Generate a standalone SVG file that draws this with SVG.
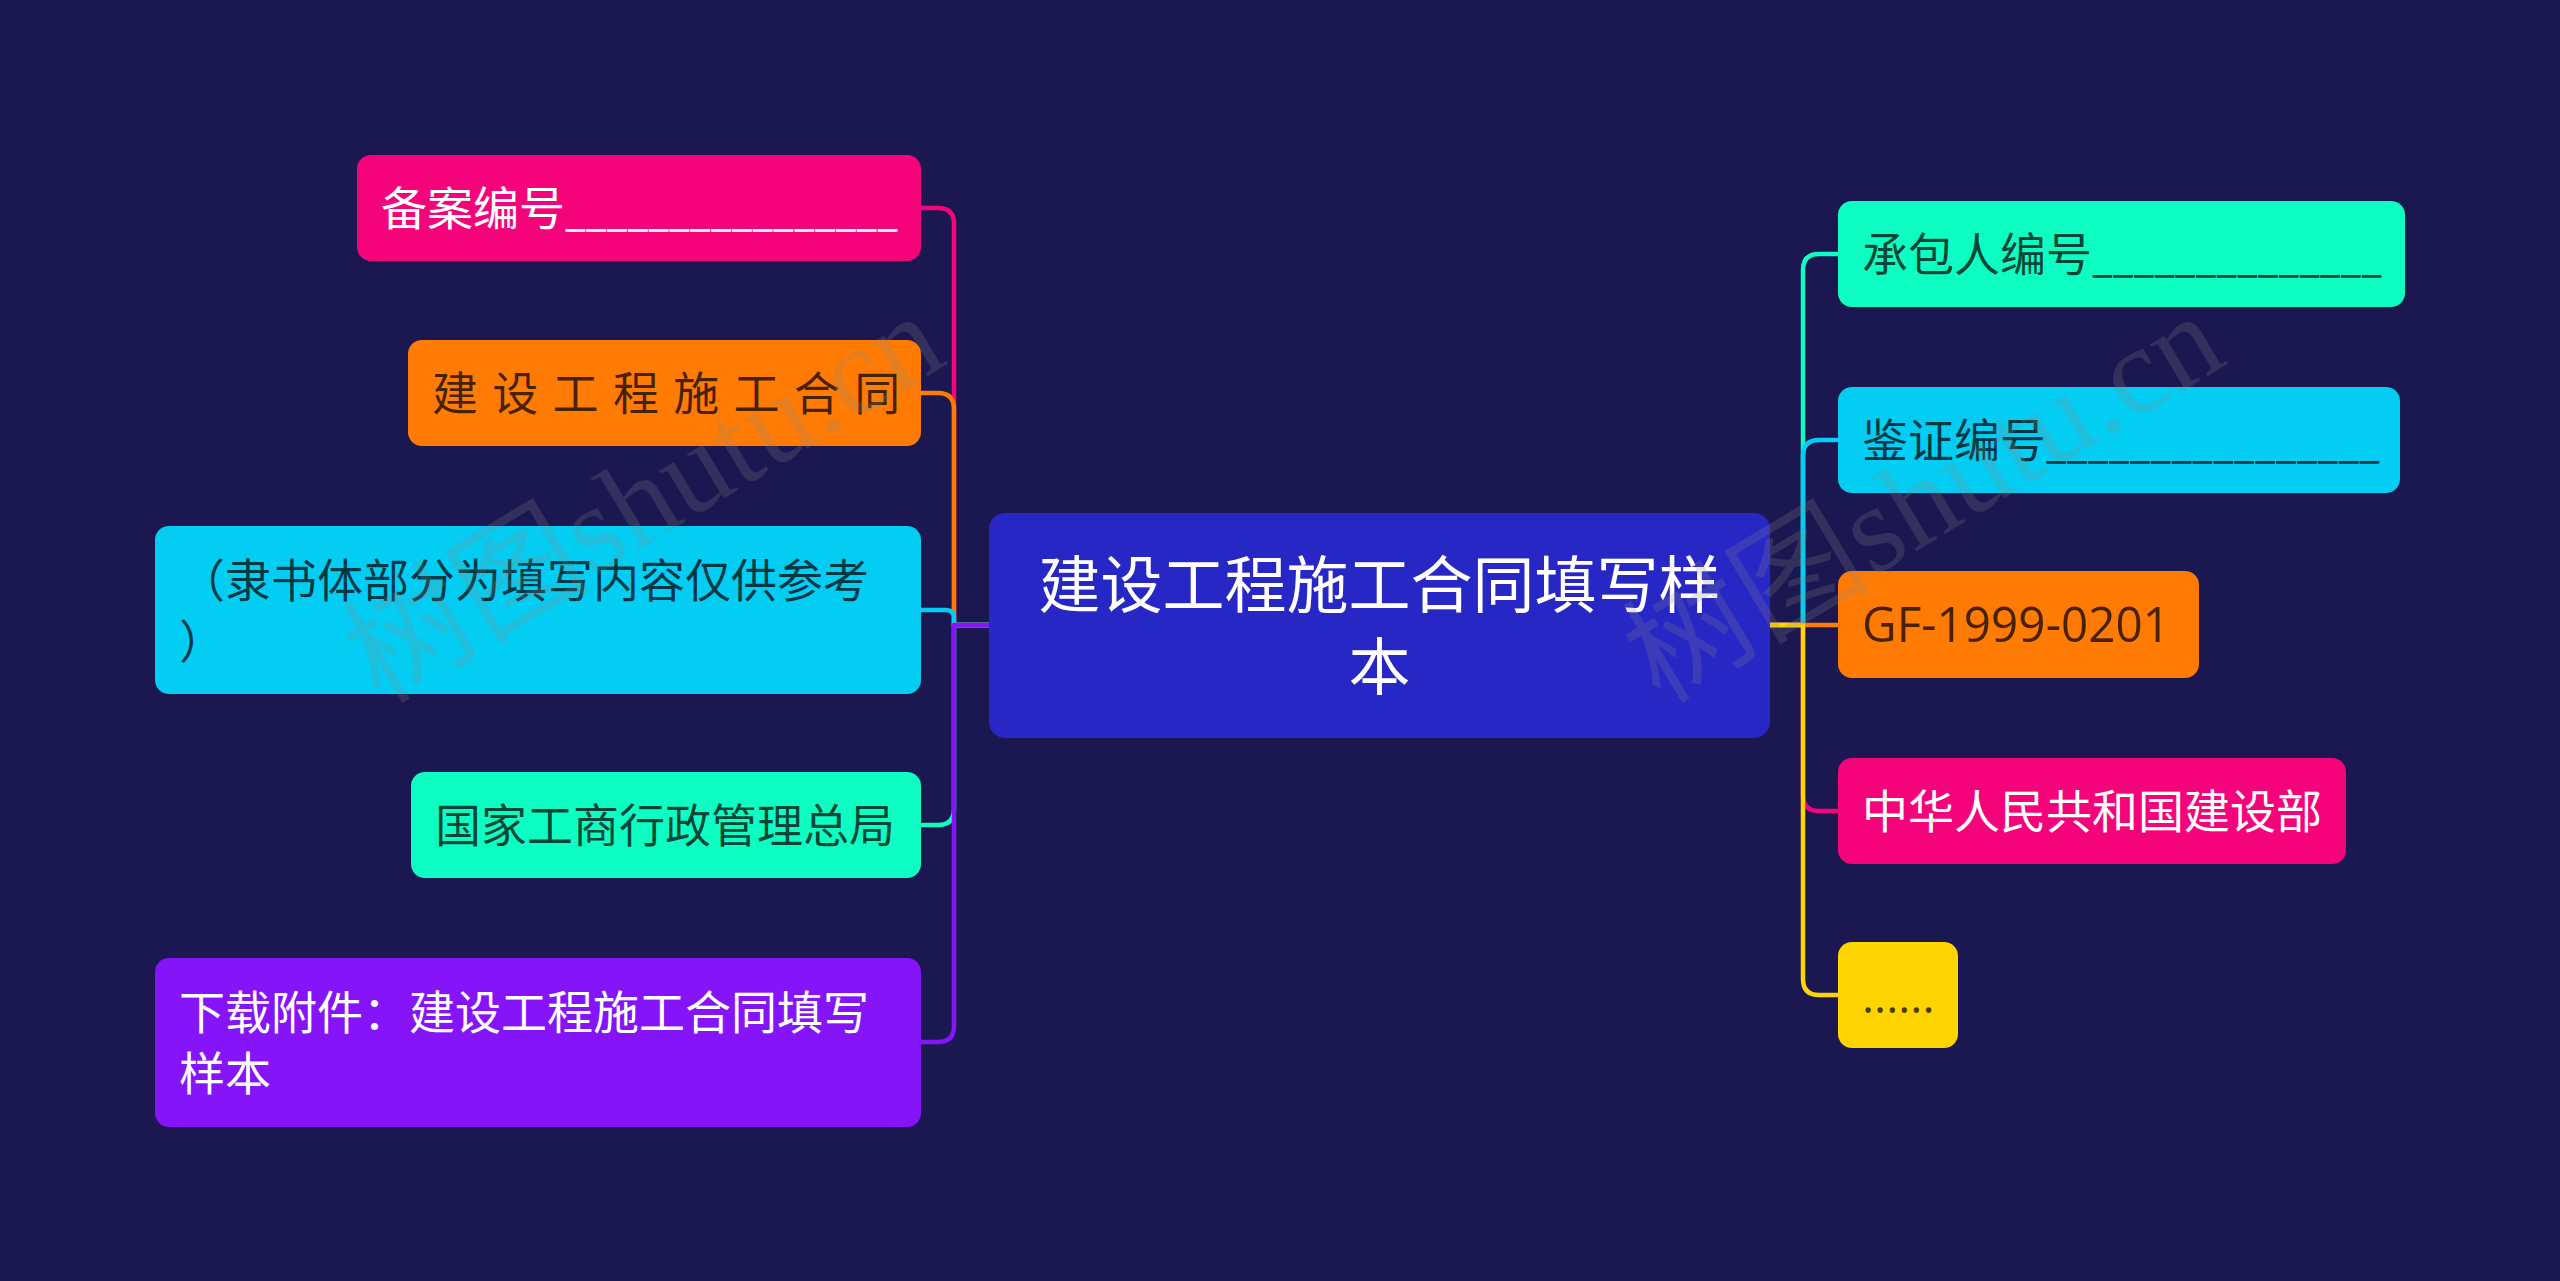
<svg xmlns="http://www.w3.org/2000/svg" width="2560" height="1281" viewBox="0 0 2560 1281">
<style>
.bg{fill:#1B1851}
.c{fill:none;stroke-width:4.5;stroke-linecap:round;stroke-linejoin:round}
.t{font-family:"Noto Sans CJK SC","Noto Sans",sans-serif;font-size:46px}
.w{fill:#FFFFFF}
.d{fill:#000000;fill-opacity:0.72}
.lat{font-family:"Open Sans","Noto Sans",sans-serif}
.wm{font-family:"Liberation Serif","Noto Sans CJK SC",serif;font-size:124px;fill:#8a8a8a;fill-opacity:0.22}
</style>
<rect class="bg" x="0" y="0" width="2560" height="1281"/>
<g id="connectors">
<path class="c" stroke="#F5037B" d="M989,625 H954 V224 Q954,208 938,208 H921"/>
<path class="c" stroke="#FF7B04" d="M989,625 H954 V409 Q954,393 938,393 H921"/>
<path class="c" stroke="#03CDF3" d="M989,625 H954 V618 Q954,610 946,610 H921"/>
<path class="c" stroke="#0EFDC3" d="M989,625 H954 V809 Q954,825 938,825 H921"/>
<path class="c" stroke="#8614F8" d="M989,625 H954 V1026 Q954,1042 938,1042 H921"/>
<path class="c" stroke="#0EFDC3" d="M1770,625 H1803 V270 Q1803,254 1819,254 H1838"/>
<path class="c" stroke="#03CDF3" d="M1770,625 H1803 V456 Q1803,440 1819,440 H1838"/>
<path class="c" stroke="#FF7B04" d="M1770,625 H1838"/>
<path class="c" stroke="#F5037B" d="M1770,625 H1803 V795 Q1803,811 1819,811 H1838"/>
<path class="c" stroke="#FFD400" d="M1770,625 H1803 V979 Q1803,995 1819,995 H1838"/>
</g>
<g id="root">
<rect x="989" y="513" width="781" height="225" rx="16" fill="#2727C6"/>
<text class="t w" x="1379.5" y="608" text-anchor="middle" style="font-size:62px">建设工程施工合同填写样</text>
<text class="t w" x="1379.5" y="690" text-anchor="middle" style="font-size:62px">本</text>
</g>
<g id="node-beian">
<rect x="357" y="155" width="564" height="106" rx="14" fill="#F5037B"/>
<text class="t w" x="381" y="225">备案编号<tspan textLength="333" lengthAdjust="spacingAndGlyphs">________________</tspan></text>
</g>
<g id="node-hetong">
<rect x="408" y="340" width="513" height="106" rx="14" fill="#FF7B04"/>
<text class="t d" x="432" y="410" letter-spacing="2">建 设 工 程 施 工 合 同</text>
</g>
<g id="node-lishu">
<rect x="155" y="526" width="766" height="168" rx="14" fill="#03CDF3"/>
<text class="t d" x="179" y="597">（隶书体部分为填写内容仅供参考</text>
<text class="t d" x="179" y="658">）</text>
</g>
<g id="node-guojia">
<rect x="411" y="772" width="510" height="106" rx="14" fill="#0EFDC3"/>
<text class="t d" x="435" y="842">国家工商行政管理总局</text>
</g>
<g id="node-xiazai">
<rect x="155" y="958" width="766" height="169" rx="14" fill="#8614F8"/>
<text class="t w" x="179" y="1029">下载附件：建设工程施工合同填写</text>
<text class="t w" x="179" y="1090">样本</text>
</g>
<g id="node-chengbao">
<rect x="1838" y="201" width="567" height="106" rx="14" fill="#0EFDC3"/>
<text class="t d" x="1862" y="271">承包人编号<tspan textLength="290" lengthAdjust="spacingAndGlyphs">______________</tspan></text>
</g>
<g id="node-jianzheng">
<rect x="1838" y="387" width="562" height="106" rx="14" fill="#03CDF3"/>
<text class="t d" x="1862" y="457">鉴证编号<tspan textLength="334" lengthAdjust="spacingAndGlyphs">________________</tspan></text>
</g>
<g id="node-gf">
<rect x="1838" y="571" width="361" height="107" rx="14" fill="#FF7B04"/>
<text class="t d lat" x="1862" y="642" style="font-size:50px" textLength="308" lengthAdjust="spacingAndGlyphs">GF-1999-0201</text>
</g>
<g id="node-jianshebu">
<rect x="1838" y="758" width="508" height="106" rx="14" fill="#F5037B"/>
<text class="t w" x="1862" y="828">中华人民共和国建设部</text>
</g>
<g id="node-more">
<rect x="1838" y="942" width="120" height="106" rx="14" fill="#FFD400"/>
<text class="t d lat" x="1862" y="1013">......</text>
</g>
<g id="watermark">
<text class="wm" transform="translate(380,705) rotate(-31)">树图shutu.cn</text>
<text class="wm" transform="translate(1660,705) rotate(-31)">树图shutu.cn</text>
</g>
</svg>
